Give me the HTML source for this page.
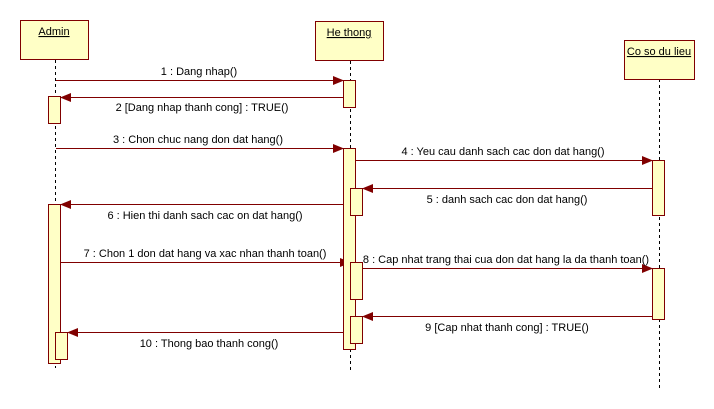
<!DOCTYPE html>
<html><head><meta charset="utf-8"><style>
html,body{margin:0;padding:0;background:#fff;}
svg{display:block;}
text{font-family:"Liberation Sans",sans-serif;font-size:11px;fill:#000;}
</style></head><body>
<svg width="714" height="409" viewBox="0 0 714 409" xmlns="http://www.w3.org/2000/svg">
<defs>
<marker id="a" markerWidth="11" markerHeight="9" refX="10" refY="4.5" orient="auto" markerUnits="userSpaceOnUse">
<path d="M0,0 L11,4.5 L0,9 z" fill="#800000"/></marker>
</defs>
<g stroke="#000" stroke-width="1" stroke-dasharray="3,3">
<line x1="55.5" y1="60" x2="55.5" y2="368"/>
<line x1="350.5" y1="61" x2="350.5" y2="372"/>
<line x1="659.5" y1="79" x2="659.5" y2="389"/>
</g>
<g stroke="#800000" stroke-width="1" fill="none" marker-end="url(#a)">
<line x1="56" y1="80.5" x2="343" y2="80.5"/>
<line x1="343" y1="97.5" x2="61" y2="97.5"/>
<line x1="56" y1="148.5" x2="343" y2="148.5"/>
<line x1="356" y1="160.5" x2="652" y2="160.5"/>
<line x1="652" y1="188.5" x2="363" y2="188.5"/>
<line x1="350" y1="204.5" x2="61" y2="204.5"/>
<line x1="61" y1="262.5" x2="350" y2="262.5"/>
<line x1="363" y1="268.5" x2="652" y2="268.5"/>
<line x1="652" y1="316.5" x2="363" y2="316.5"/>
<line x1="350" y1="332.5" x2="68" y2="332.5"/>
</g>
<g fill="#ffffc6" stroke="#800000" stroke-width="1">
<rect x="20.5" y="20.5" width="68" height="39"/>
<rect x="315.5" y="21.5" width="68" height="39"/>
<rect x="624.5" y="40.5" width="70" height="39"/>
<rect x="48.5" y="96.5" width="12" height="27"/>
<rect x="48.5" y="204.5" width="12" height="159"/>
<rect x="55.5" y="332.5" width="12" height="27"/>
<rect x="343.5" y="80.5" width="12" height="27"/>
<rect x="343.5" y="148.5" width="12" height="201"/>
<rect x="350.5" y="188.5" width="12" height="27"/>
<rect x="350.5" y="262.5" width="12" height="37"/>
<rect x="350.5" y="316.5" width="12" height="27"/>
<rect x="652.5" y="160.5" width="12" height="55"/>
<rect x="652.5" y="268.5" width="12" height="51"/>
</g>
<g text-anchor="middle">
<text x="54" y="35" text-decoration="underline">Admin</text>
<text x="349" y="36" text-decoration="underline">He thong</text>
<text x="659" y="55" text-decoration="underline">Co so du lieu</text>
<text x="199" y="75">1 : Dang nhap()</text>
<text x="202" y="111">2 [Dang nhap thanh cong] : TRUE()</text>
<text x="198" y="143">3 : Chon chuc nang don dat hang()</text>
<text x="503" y="155">4 : Yeu cau danh sach cac don dat hang()</text>
<text x="507" y="203">5 : danh sach cac don dat hang()</text>
<text x="205" y="219">6 : Hien thi danh sach cac on dat hang()</text>
<text x="205" y="257">7 : Chon 1 don dat hang va xac nhan thanh toan()</text>
<text x="506" y="263">8 : Cap nhat trang thai cua don dat hang la da thanh toan()</text>
<text x="507" y="331">9 [Cap nhat thanh cong] : TRUE()</text>
<text x="209" y="347">10 : Thong bao thanh cong()</text>
</g>
</svg>
</body></html>
